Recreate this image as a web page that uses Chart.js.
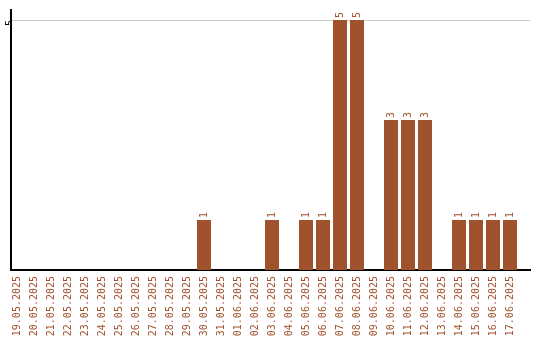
<!DOCTYPE html>
<html><head><meta charset="utf-8">
<script src="https://cdn.jsdelivr.net/npm/chart.js@4/dist/chart.umd.min.js"></script>
<style>html,body{margin:0;padding:0;background:#fff}#wrap{width:540px;height:340px}</style>
</head><body><div id="wrap"><canvas id="c" width="540" height="340"></canvas></div>
<script>
const categories = ["19.05.2025","20.05.2025","21.05.2025","22.05.2025","23.05.2025","24.05.2025","25.05.2025","26.05.2025","27.05.2025","28.05.2025","29.05.2025","30.05.2025","31.05.2025","01.06.2025","02.06.2025","03.06.2025","04.06.2025","05.06.2025","06.06.2025","07.06.2025","08.06.2025","09.06.2025","10.06.2025","11.06.2025","12.06.2025","13.06.2025","14.06.2025","15.06.2025","16.06.2025","17.06.2025"];
const values = [0,0,0,0,0,0,0,0,0,0,0,1,0,0,0,1,0,1,1,5,5,0,3,3,3,0,1,1,1,1];
const yTicks = [5];
const COLOR = '#a0522d';
const FONT = "'DejaVu Sans Mono', monospace";

const labelPlugin = {
  id: 'valLabels',
  afterDatasetsDraw(chart) {
    const ctx = chart.ctx;
    const meta = chart.getDatasetMeta(0);
    ctx.save();
    ctx.fillStyle = COLOR;
    ctx.font = '10px ' + FONT;
    ctx.textAlign = 'left';
    ctx.textBaseline = 'middle';
    meta.data.forEach((bar, i) => {
      const v = values[i];
      if (!v) return;
      ctx.save();
      ctx.translate(Math.round(bar.x), bar.y - 2);
      ctx.rotate(-Math.PI / 2);
      ctx.fillText(String(v), 0, 0);
      ctx.restore();
    });
    ctx.restore();
  }
};

new Chart(document.getElementById('c'), {
  type: 'bar',
  data: { datasets: [{ data: values.map((v, i) => ({ x: i, y: v })), backgroundColor: COLOR, barPercentage: 0.8235, categoryPercentage: 1 }] },
  options: {
    responsive: false, animation: false,
    layout: { padding: { top: 10, right: 10, left: 0, bottom: 0 } },
    plugins: { legend: { display: false }, tooltip: { enabled: false } },
    scales: {
      x: {
        type: 'linear', min: -0.353, max: 30.176, offset: false,
        grid: { display: false, drawTicks: false },
        border: { color: '#000', width: 2 },
        ticks: { color: COLOR, font: { family: FONT, size: 10 }, minRotation: 90, maxRotation: 90, padding: 6, autoSkip: false,
          callback: (v) => categories[v] },
        afterBuildTicks(s) { s.ticks = categories.map((c, i) => ({ value: i })); },
        afterFit(s) { s.height = 70; s.paddingLeft = 0; s.paddingRight = 0; }
      },
      y: {
        min: 0, max: 5.2,
        grid: { color: '#cccccc', drawTicks: false },
        border: { color: '#000', width: 2 },
        ticks: { color: '#000', font: { family: FONT, size: 10 }, minRotation: 90, maxRotation: 90, padding: 1 },
        afterBuildTicks(s) { s.ticks = yTicks.map(v => ({ value: v })); },
        afterFit(s) { s.width = 11; s.paddingTop = 0; s.paddingBottom = 0; }
      }
    }
  },
  plugins: [labelPlugin]
});
</script></body></html>
